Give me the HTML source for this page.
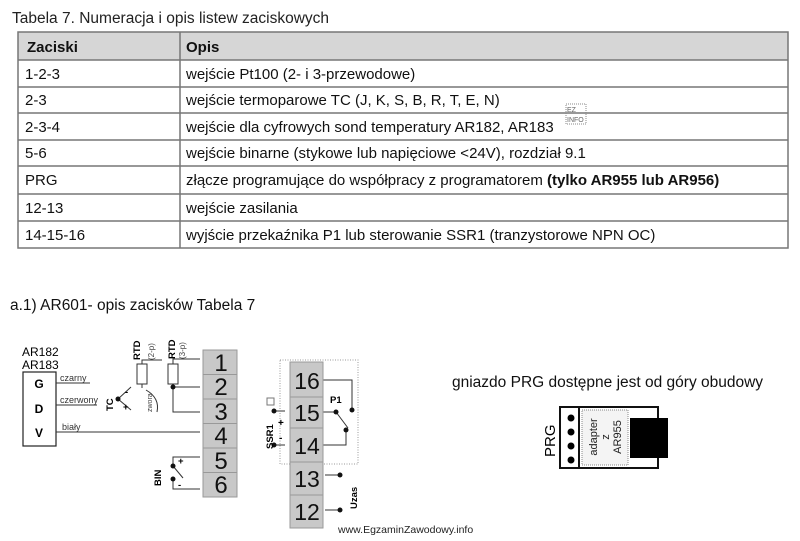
<!DOCTYPE html>
<html><head><meta charset="utf-8"><style>
body{margin:0;width:800px;height:536px;background:#fff;overflow:hidden;font-family:"Liberation Sans",sans-serif}
svg text{font-family:"Liberation Sans",sans-serif}
</style></head><body>
<svg width="800" height="536" viewBox="0 0 800 536" xmlns="http://www.w3.org/2000/svg">
<text x="12" y="23" font-size="15.5" fill="#222">Tabela 7. Numeracja  i opis listew zaciskowych</text>
<rect x="18" y="32" width="770" height="28" fill="#d6d6d6"/>
<g stroke="#777" stroke-width="1.5" fill="none">
<rect x="18" y="32" width="770" height="216"/>
<line x1="180" y1="32" x2="180" y2="248"/>
<line x1="18" y1="60" x2="788" y2="60"/><line x1="18" y1="87" x2="788" y2="87"/>
<line x1="18" y1="113" x2="788" y2="113"/><line x1="18" y1="140" x2="788" y2="140"/>
<line x1="18" y1="166" x2="788" y2="166"/><line x1="18" y1="194" x2="788" y2="194"/>
<line x1="18" y1="221" x2="788" y2="221"/>
</g>
<g font-size="15" fill="#111">
<text x="27" y="52" font-weight="bold">Zaciski</text><text x="186" y="52" font-weight="bold">Opis</text>
<text x="25" y="79">1-2-3</text><text x="186" y="79">wejście Pt100 (2- i 3-przewodowe)</text>
<text x="25" y="105">2-3</text><text x="186" y="105">wejście termoparowe TC (J, K, S, B, R, T, E, N)</text>
<text x="25" y="132">2-3-4</text><text x="186" y="132">wejście dla cyfrowych sond temperatury AR182, AR183</text>
<text x="25" y="158">5-6</text><text x="186" y="158">wejście binarne (stykowe lub napięciowe &lt;24V), rozdział 9.1</text>
<text x="25" y="185">PRG</text><text x="186" y="185">złącze programujące do współpracy z programatorem <tspan font-weight="bold">(tylko AR955 lub AR956)</tspan></text>
<text x="25" y="213">12-13</text><text x="186" y="213">wejście zasilania</text>
<text x="25" y="240">14-15-16</text><text x="186" y="240">wyjście przekaźnika P1 lub sterowanie SSR1 (tranzystorowe NPN OC)</text>
</g>
<rect x="566" y="104" width="20" height="20" fill="none" stroke="#888" stroke-dasharray="1,1"/>
<text x="567" y="112" font-size="7" fill="#666">EZ</text><text x="567" y="122" font-size="7" fill="#666">INFO</text>

<text x="10" y="310" font-size="15.5" fill="#111">a.1) AR601- opis  zacisków  Tabela 7</text>

<!-- left terminal block -->
<g fill="#c8c8c8" stroke="#999" stroke-width="1">
<rect x="203" y="350" width="34" height="24.5"/><rect x="203" y="374.5" width="34" height="24.5"/>
<rect x="203" y="399" width="34" height="24.5"/><rect x="203" y="423.5" width="34" height="24.5"/>
<rect x="203" y="448" width="34" height="24.5"/><rect x="203" y="472.5" width="34" height="24.5"/>
</g>
<g font-size="24" fill="#111" text-anchor="middle">
<text x="221" y="371">1</text><text x="221" y="395">2</text><text x="221" y="420">3</text>
<text x="221" y="444">4</text><text x="221" y="469">5</text><text x="221" y="493">6</text>
</g>
<!-- AR182 box -->
<text x="22" y="356" font-size="12">AR182</text><text x="22" y="369" font-size="12">AR183</text>
<rect x="23" y="372" width="33" height="74" fill="none" stroke="#222" stroke-width="1.2"/>
<g font-size="12" font-weight="bold" text-anchor="middle"><text x="39" y="388">G</text><text x="39" y="413">D</text><text x="39" y="437">V</text></g>
<g stroke="#333" stroke-width="1" fill="none">
<line x1="56" y1="383" x2="90" y2="383"/><line x1="56" y1="405" x2="97" y2="405"/>
<line x1="56" y1="432" x2="200" y2="432"/>
<polyline points="162,360 142,360 142,364"/><rect x="137" y="364" width="10" height="20"/>
<line x1="142" y1="384" x2="142" y2="388"/>
<polyline points="200,359 173,359 173,364"/><rect x="168" y="364" width="10" height="20"/>
<polyline points="173,384 173,387 200,387"/><polyline points="173,387 173,412 200,412"/>
<polyline points="131,387 118,399 131,410"/>
<path d="M146,390 Q160,398 157,412"/>
<polyline points="200,457 173,457 173,466"/><line x1="173" y1="466" x2="183" y2="478"/>
<polyline points="173,479 173,489 200,489"/>
<rect x="280" y="360" width="78" height="104" stroke="#999" stroke-dasharray="1,1.5"/>
<polyline points="323,380 352,380 352,409"/>
<line x1="323" y1="412" x2="336" y2="412"/><line x1="336" y1="412" x2="348" y2="428"/>
<polyline points="346,430 346,445 323,445"/>
<line x1="274" y1="411" x2="285" y2="411"/><line x1="274" y1="445" x2="285" y2="445"/>
<line x1="325" y1="475" x2="340" y2="475"/><line x1="325" y1="510" x2="340" y2="510"/>
</g>
<g font-size="9" fill="#333"><text x="60" y="381">czarny</text><text x="60" y="403">czerwony</text><text x="62" y="430">biały</text></g>
<g fill="#111">
<circle cx="118" cy="399" r="2.5"/><circle cx="173" cy="387" r="2.5"/>
<circle cx="173" cy="466" r="2.5"/><circle cx="173" cy="479" r="2.5"/>
<circle cx="336" cy="412" r="2.5"/><circle cx="352" cy="410" r="2.5"/><circle cx="346" cy="430" r="2.5"/>
<circle cx="274" cy="411" r="2.5"/><circle cx="274" cy="445" r="2.5"/>
<circle cx="340" cy="475" r="2.5"/><circle cx="340" cy="510" r="2.5"/>
</g>
<g font-size="9.5" font-weight="bold">
<text transform="translate(113,411) rotate(-90)">TC</text>
<text transform="translate(140,360) rotate(-90)">RTD</text>
<text transform="translate(175,359) rotate(-90)">RTD</text>
<text transform="translate(161,486) rotate(-90)">BIN</text>
<text transform="translate(273,449) rotate(-90)">SSR1</text>
<text transform="translate(357,509) rotate(-90)">Uzas</text>
<text x="330" y="403">P1</text>
<text x="125" y="395">-</text><text x="123" y="410">+</text>
<text x="178" y="464">+</text><text x="178" y="488">-</text>
</g>
<g font-size="8" fill="#444">
<text transform="translate(154,360) rotate(-90)">(2-p)</text>
<text transform="translate(185,359) rotate(-90)">(3-p)</text>
<text transform="translate(152,412) rotate(-90)" font-size="7">zwora</text>
</g>
<rect x="267" y="398" width="7" height="7" fill="none" stroke="#777"/>
<g font-size="10" font-weight="bold"><text x="278" y="426">+</text><text x="279" y="441">-</text></g>
<g fill="#c8c8c8" stroke="#999">
<rect x="290" y="362" width="33" height="35"/><rect x="290" y="397" width="33" height="31"/>
<rect x="290" y="428" width="33" height="34"/><rect x="290" y="462" width="33" height="33"/>
<rect x="290" y="495" width="33" height="33"/>
</g>
<g font-size="23" fill="#111" text-anchor="middle">
<text x="307" y="389">16</text><text x="307" y="421">15</text><text x="307" y="454">14</text>
<text x="307" y="487">13</text><text x="307" y="520">12</text>
</g>
<text x="338" y="533" font-size="10.5" fill="#222">www.EgzaminZawodowy.info</text>

<text x="452" y="387" font-size="15.5" fill="#111">gniazdo PRG dostępne jest od góry obudowy</text>
<rect x="560" y="407" width="98" height="61" fill="none" stroke="#111" stroke-width="2"/>
<line x1="579" y1="407" x2="579" y2="468" stroke="#111" stroke-width="2"/>
<rect x="582" y="410" width="46" height="55" fill="#f4f4f4" stroke="#888" stroke-dasharray="1,1"/>
<rect x="630" y="418" width="38" height="40" fill="#000"/>
<g fill="#000"><circle cx="571" cy="418" r="3.5"/><circle cx="571" cy="432" r="3.5"/><circle cx="571" cy="446" r="3.5"/><circle cx="571" cy="460" r="3.5"/></g>
<text transform="translate(555,457) rotate(-90)" font-size="15">PRG</text>
<g font-size="11" fill="#222" text-anchor="middle">
<text transform="translate(597,437) rotate(-90)">adapter</text>
<text transform="translate(609,437) rotate(-90)">z</text>
<text transform="translate(621,437) rotate(-90)">AR955</text>
</g>
</svg>
</body></html>
